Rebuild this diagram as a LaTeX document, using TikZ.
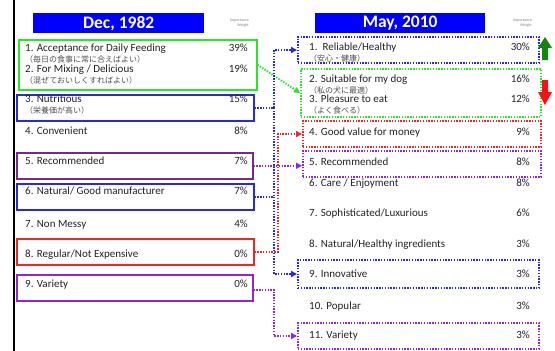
\documentclass[tikz,border=0pt]{standalone}
\usepackage{fontspec}
\setmainfont{Carlito}
\newfontfamily\jpfont{Noto Sans CJK JP}
\usetikzlibrary{arrows.meta}
\definecolor{ttlblue}{RGB}{0,0,255}
\definecolor{gbox}{RGB}{40,230,40}
\definecolor{bbox}{RGB}{40,40,225}
\definecolor{pbox}{RGB}{120,40,140}
\definecolor{vbox}{RGB}{140,40,220}
\definecolor{rbox}{RGB}{235,40,40}
\definecolor{txt}{RGB}{35,35,35}
\definecolor{txtl}{RGB}{80,80,80}
\definecolor{upg}{RGB}{20,130,20}
\definecolor{dnr}{RGB}{240,20,20}
\begin{document}
\begin{tikzpicture}[x=1pt,y=-1pt,
  lbox/.style={draw=#1, line width=1.5pt, anchor=north west, inner sep=0},
  rbox/.style={draw=#1, line width=2pt, dash pattern=on 1.4pt off 1.4pt, anchor=north west, inner sep=0},
  conn/.style={draw=#1, line width=2pt, dash pattern=on 1.4pt off 1.4pt},
  tip/.style={-{Triangle[length=6pt,width=6pt]}},
  ttl/.style={fill=ttlblue, anchor=north west, inner sep=0, text=white, font=\bfseries\fontsize{17.5}{18}\selectfont},
  iw/.style={font=\fontsize{4}{4.8}\selectfont, text=txtl!70, align=right, inner sep=0, anchor=north east},
  lt/.style={font=\fontsize{11}{12}\selectfont, text=txt, inner sep=0, text height=7.5pt, text depth=2pt, anchor=west},
  pc/.style={lt, anchor=east},
  jp/.style={font=\jpfont\fontsize{8}{9}\selectfont, text=txtl, inner sep=0, anchor=west}
]
\useasboundingbox (0,0) rectangle (555,351);
\fill[white] (0,0) rectangle (555,351);
\draw[line width=2pt, black] (14,0) -- (14,351);

% titles
\node[ttl, minimum width=171pt, minimum height=20pt] (T1) at (33,13) {Dec, 1982};
\node[ttl, minimum width=170pt, minimum height=20pt] (T2) at (315,13) {May, 2010};
\node[iw] (IW1) at (249,19) {Importance\\Weight};
\node[iw] (IW2) at (532,19) {Importance\\Weight};

% left boxes
\node[lbox=gbox, minimum width=238pt, minimum height=50pt] (L12) at (18,39) {};
\node[lbox=bbox, minimum width=237pt, minimum height=26pt] (L3) at (16,94) {};
\node[lbox=pbox, minimum width=236pt, minimum height=26pt] (L5) at (16,152) {};
\node[lbox=bbox, minimum width=237pt, minimum height=26pt] (L6) at (16,183) {};
\node[lbox=rbox, minimum width=237pt, minimum height=26pt] (L8) at (16,238) {};
\node[lbox=vbox, minimum width=236pt, minimum height=26pt] (L9) at (16,274) {};

% left texts
\node[lt] (a1) at (25,49) {1. Acceptance for Daily Feeding};
\node[jp] (a1j) at (25,59) {（毎日の食事に常に合えばよい）};
\node[pc] (a1p) at (248,49) {39\%};
\node[lt] (a2) at (25,70) {2. For Mixing / Delicious};
\node[jp] (a2j) at (25,80) {（混ぜておいしくすればよい）};
\node[pc] (a2p) at (248,70) {19\%};
\node[lt] (a3) at (25,100) {3. Nutritious};
\node[jp] (a3j) at (25,110) {（栄養価が高い）};
\node[pc] (a3p) at (248,100) {15\%};
\node[lt] (a4) at (25,132) {4. Convenient};
\node[pc] (a4p) at (248,132) {8\%};
\node[lt] (a5) at (25,162) {5. Recommended};
\node[pc] (a5p) at (248,162) {7\%};
\node[lt] (a6) at (25,192) {6. Natural/ Good manufacturer};
\node[pc] (a6p) at (248,192) {7\%};
\node[lt] (a7) at (25,225) {7. Non Messy};
\node[pc] (a7p) at (248,225) {4\%};
\node[lt] (a8) at (25,255) {8. Regular/Not Expensive};
\node[pc] (a8p) at (248,255) {0\%};
\node[lt] (a9) at (25,285) {9. Variety};
\node[pc] (a9p) at (248,285) {0\%};

% right boxes
\node[rbox=bbox, minimum width=241pt, minimum height=26pt] (R1) at (297,36) {};
\node[rbox=gbox, minimum width=240pt, minimum height=48pt] (R23) at (300,68) {};
\node[rbox=rbox, minimum width=238pt, minimum height=26pt] (R4) at (302,120) {};
\node[rbox=vbox, minimum width=238pt, minimum height=26pt] (R5) at (302,150) {};
\node[rbox=bbox, minimum width=241pt, minimum height=28pt] (R9) at (297,259) {};
\node[rbox=vbox, minimum width=241pt, minimum height=26pt] (R11) at (297,322) {};

% right texts
\node[lt] (b1) at (309,48) {1.\ \ Reliable/Healthy};
\node[jp] (b1j) at (309,58) {（安心・健康）};
\node[pc] (b1p) at (530,48) {30\%};
\node[lt] (b2) at (309,80) {2. Suitable for my dog};
\node[jp] (b2j) at (309,90) {（私の犬に最適）};
\node[pc] (b2p) at (530,80) {16\%};
\node[lt] (b3) at (309,100) {3. Pleasure to eat};
\node[jp] (b3j) at (309,110) {（よく食べる）};
\node[pc] (b3p) at (530,100) {12\%};
\node[lt] (b4) at (309,133) {4. Good value for money};
\node[pc] (b4p) at (530,133) {9\%};
\node[lt] (b5) at (309,163) {5. Recommended};
\node[pc] (b5p) at (530,163) {8\%};
\node[lt] (b6) at (309,184) {6. Care / Enjoyment};
\node[pc] (b6p) at (530,184) {8\%};
\node[lt] (b7) at (309,214) {7. Sophisticated/Luxurious};
\node[pc] (b7p) at (530,214) {6\%};
\node[lt] (b8) at (309,245) {8. Natural/Healthy ingredients};
\node[pc] (b8p) at (530,245) {3\%};
\node[lt] (b9) at (309,275) {9. Innovative};
\node[pc] (b9p) at (530,275) {3\%};
\node[lt] (b10) at (309,307) {10. Popular};
\node[pc] (b10p) at (530,307) {3\%};
\node[lt] (b11) at (309,336) {11. Variety};
\node[pc] (b11p) at (530,336) {3\%};

% trend arrows
\fill[upg] (545,37) -- (552,48) -- (548,48) -- (548,60) -- (542,60) -- (542,48) -- (538,48) -- cycle;
\fill[dnr] (542,80) -- (548,80) -- (548,92) -- (552,92) -- (545,105) -- (538,92) -- (542,92) -- cycle;

% connectors
\coordinate (bx) at (274,0);
\coordinate (rx) at (277.5,0);
\coordinate (px) at (274,0);
\draw[conn=gbox, tip] (L12.east) -- (R23.west);
\draw[conn=bbox, tip] (L3.east) -- (L3.east -| bx) |- (R1.west);
\draw[conn=bbox, tip] (L6.east) -- (L6.east -| bx) |- (R9.west);
\draw[conn=bbox] (L3.east -| bx) -- (L6.east -| bx);
\draw[conn=rbox, tip] (L8.east) -- (L8.east -| rx) |- (R4.west);
\draw[conn=vbox, tip] (L5.east) -- (L5.east -| R5.west);
\draw[conn=vbox, tip] ([yshift=-2pt]L9.east) -- ([yshift=-2pt]L9.east -| px) |- (R11.west);
\end{tikzpicture}
\end{document}
